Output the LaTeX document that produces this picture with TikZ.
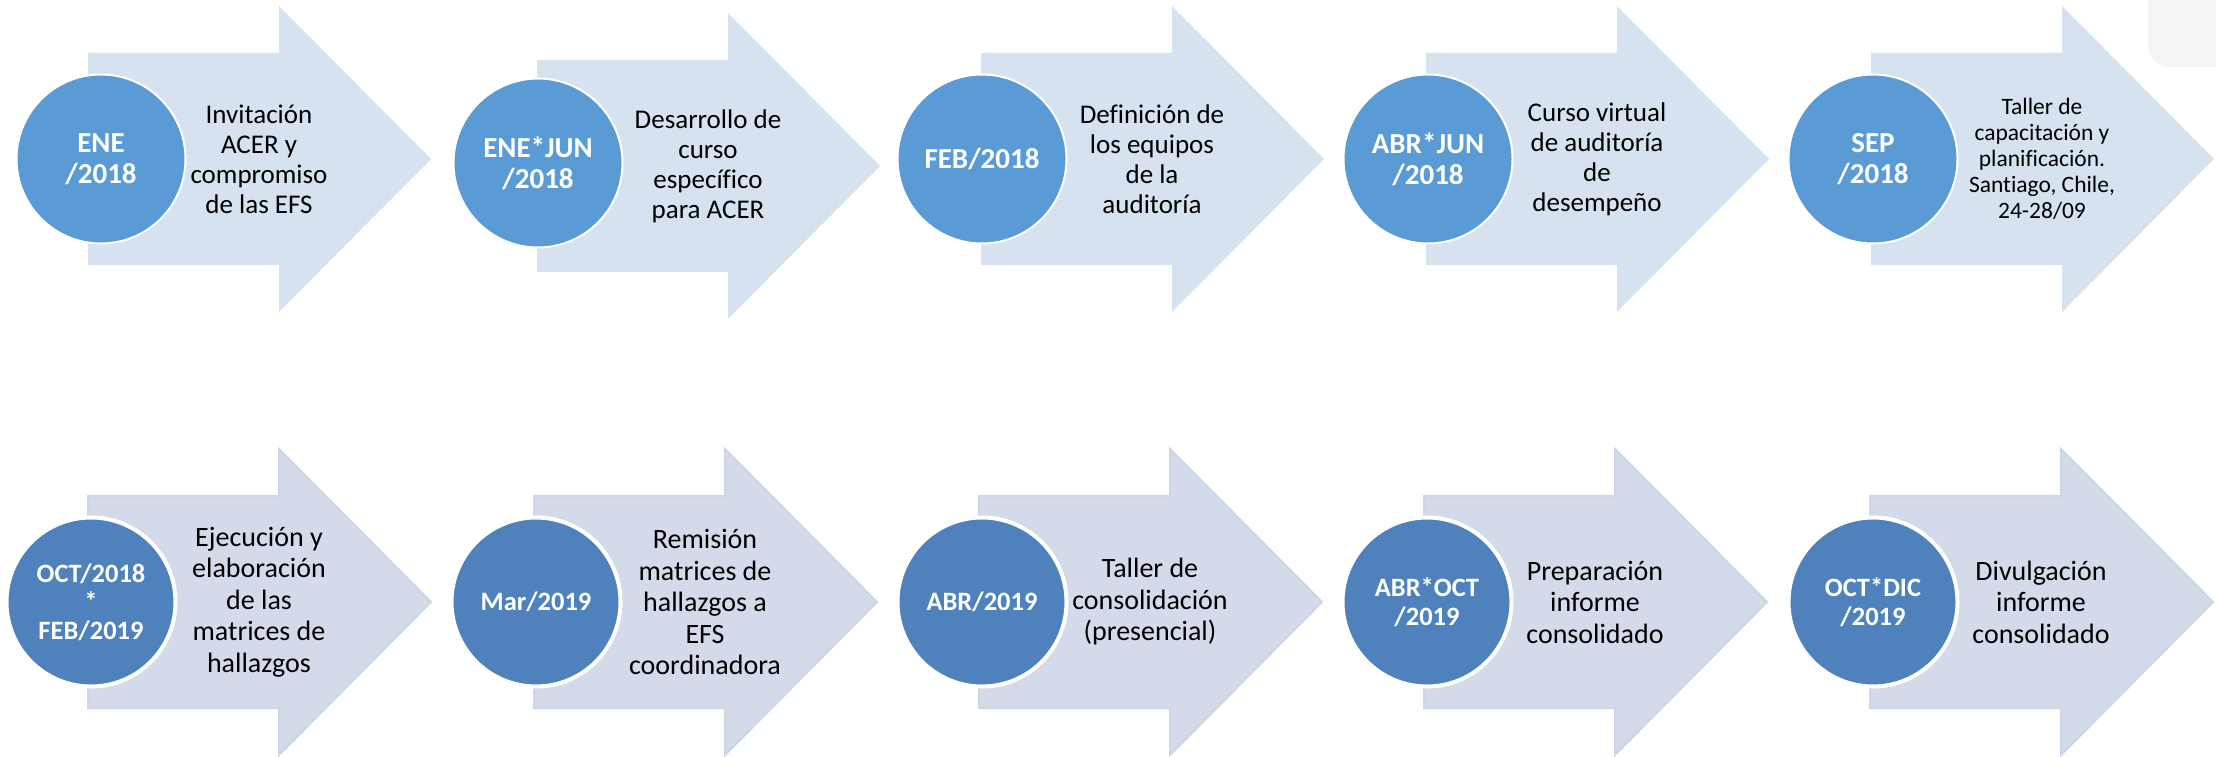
\documentclass[tikz,border=0pt]{standalone}
\usepackage{fontspec}
\setmainfont{Carlito}[Ligatures=NoCommon]
\definecolor{toparrowfill}{RGB}{214,226,240}
\definecolor{botarrowfill}{RGB}{211,219,234}
\definecolor{botarrowline}{RGB}{205,214,232}
\definecolor{topcircfill}{RGB}{91,155,213}
\definecolor{botcircfill}{RGB}{79,129,189}
\definecolor{cornergrey}{RGB}{244,244,244}
\tikzset{
  toparrow/.style={fill=toparrowfill},
  botarrow/.style={fill=botarrowfill, draw=botarrowline, line width=2pt, line join=miter},
  topcirc/.style={circle, fill=topcircfill, draw=white, line width=2pt, minimum size=169pt, inner sep=0pt,
     text=white, align=center, font=\bfseries\fontsize{29}{31}\selectfont},
  botcirc/.style={circle, fill=botcircfill, draw=white, line width=4pt, minimum size=169pt, inner sep=0pt,
     text=white, align=center, font=\bfseries\fontsize{26.5}{28.5}\selectfont},
  topdesc/.style={align=center, text=black, inner sep=0pt, font=\fontsize{27}{30}\selectfont},
  botdesc/.style={align=center, text=black, inner sep=0pt, font=\fontsize{28}{31.5}\selectfont},
  smalldesc/.style={align=center, text=black, inner sep=0pt, font=\fontsize{23.5}{26}\selectfont},
}
% #1 name, #2 arrow left, #3 arrow centre y, #4 circle x, #5 circle y, #6 date, #7 text, #8 row, #9 text style
\newcommand\tlstage[9]{%
  \path[#8arrow] (#2,#3-106) -- (#2+191,#3-106) -- (#2+191,#3-153) -- (#2+343,#3)
     -- (#2+191,#3+153) -- (#2+191,#3+106) -- (#2,#3+106) -- cycle;
  \node[#8circ] (c#1) at (#4,#5) {#6};
  \node[#9] (t#1) at (#2+171,#3) {#7};
}
\begin{document}
\begin{tikzpicture}[x=1pt,y=-1pt]
\useasboundingbox (0,0) rectangle (2216,757);
\fill[white] (0,0) rectangle (2216,757);
\begin{scope}
  \clip (0,0) rectangle (2216,757);
  \fill[cornergrey, rounded corners=22pt] (2148,-40) rectangle (2270,67);
\end{scope}
% top row
\tlstage{a1}{88}{159}{101}{159}{ENE\\/2018}{Invitación\\ACER y\\compromiso\\de las EFS}{top}{topdesc}
\tlstage{a2}{537}{166}{538}{163}{ENE*JUN\\/2018}{Desarrollo de\\curso\\específico\\para ACER}{top}{topdesc}
\tlstage{a3}{981}{159}{982}{159}{FEB/2018}{Definición de\\los equipos\\de la\\auditoría}{top}{topdesc}
\tlstage{a4}{1426}{159}{1428}{159}{ABR*JUN\\/2018}{Curso virtual\\de auditoría\\de\\desempeño}{top}{topdesc}
\tlstage{a5}{1871}{159}{1873}{159}{SEP\\/2018}{Taller de\\capacitación y\\planificación.\\Santiago, Chile,\\24-28/09}{top}{smalldesc}
% bottom row
\tlstage{b1}{88}{602}{91}{602}{OCT/2018\\*\\FEB/2019}{Ejecución y\\elaboración\\de las\\matrices de\\hallazgos}{bot}{botdesc}
\tlstage{b2}{534}{602}{536}{602}{Mar/2019}{Remisión\\matrices de\\hallazgos a\\EFS\\coordinadora}{bot}{botdesc}
\tlstage{b3}{979}{602}{982}{602}{ABR/2019}{Taller de\\consolidación\\(presencial)}{bot}{botdesc}
\tlstage{b4}{1424}{602}{1427}{602}{ABR*OCT\\/2019}{Preparación\\informe\\consolidado}{bot}{botdesc}
\tlstage{b5}{1870}{602}{1873}{602}{OCT*DIC\\/2019}{Divulgación\\informe\\consolidado}{bot}{botdesc}
\end{tikzpicture}
\end{document}
